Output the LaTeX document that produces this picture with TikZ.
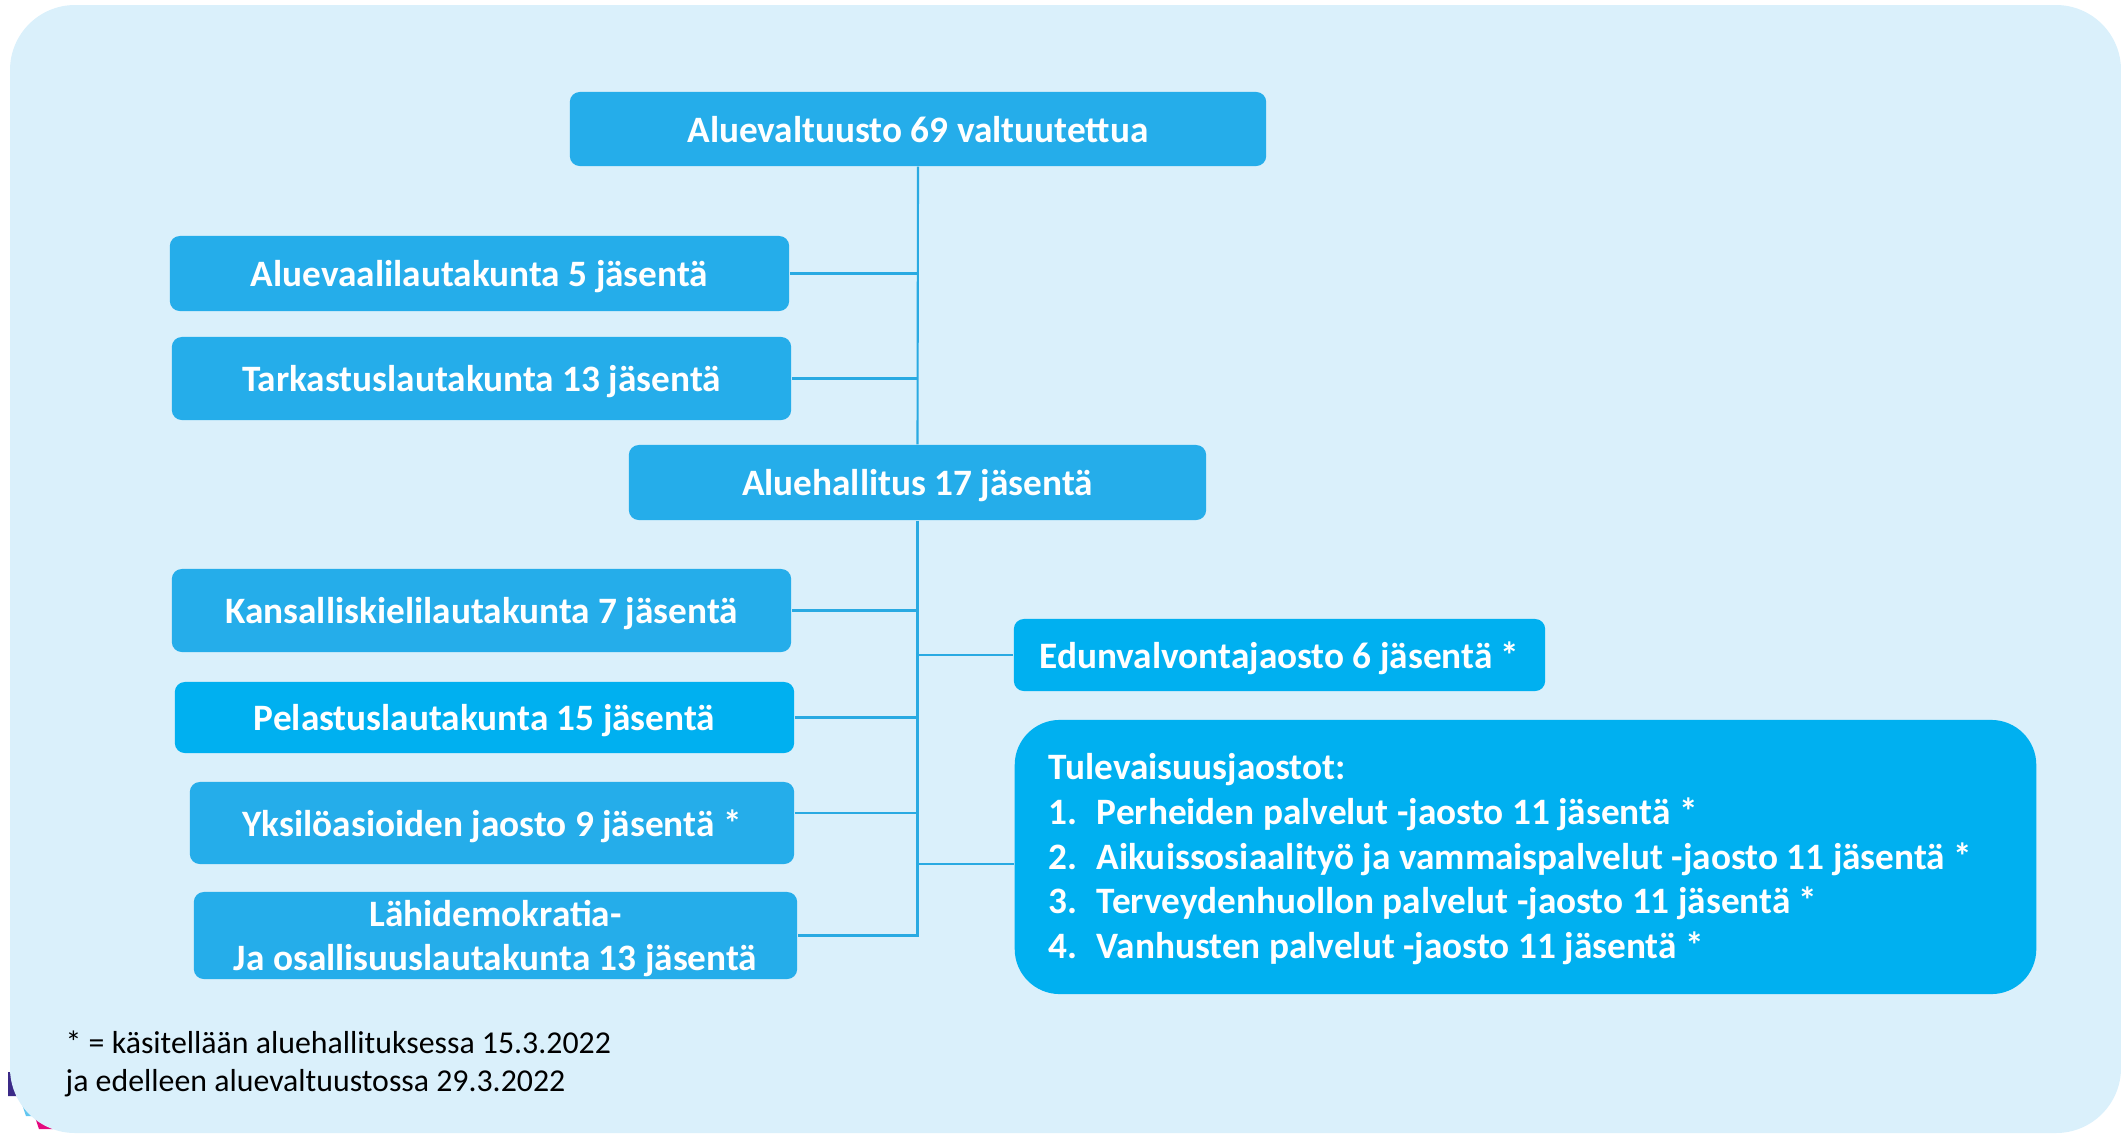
\documentclass[tikz,border=0pt]{standalone}
\usepackage{fontspec}
\setmainfont{Carlito}
\usepackage{tikz}

\definecolor{tausta}{HTML}{DAF0FB}
\definecolor{elinsin}{HTML}{25ADEA}
\definecolor{kirkassin}{HTML}{00B0F0}
\definecolor{viiva}{HTML}{29AAE2}
\definecolor{logovio}{HTML}{3B2A87}
\definecolor{logosin}{HTML}{62C6F0}
\definecolor{logopun}{HTML}{E4097E}

\tikzset{
	elin/.style={fill=elinsin, text=white, rounded corners=0.1cm, inner sep=0pt, align=flush center,
		text depth=0pt, font=\bfseries\fontsize{10.6}{12.7}\selectfont},
	kirkas/.style={elin, fill=kirkassin},
	yhteys/.style={draw=viiva, line width=0.6pt},
}

\begin{document}
\begin{tikzpicture}[x=0.01cm, y=-0.01cm]
	\useasboundingbox (0,0) rectangle (2121,1133);
	\fill[logovio] (8,1072) -- (15,1072) -- (24,1096) -- (8,1096) -- cycle;
	\fill[logosin] (22,1104) -- (30,1104) -- (34,1116) -- (26,1116) -- cycle;
	\fill[logopun] (35,1117) -- (47,1117) -- (53,1129) -- (39,1129) -- cycle;
	\fill[tausta, rounded corners=0.65cm] (10,5) rectangle (2121,1133);
	
	\node[elin, minimum width=6.96cm, minimum height=0.74cm] (valtuusto) at (918,129) {Aluevaltuusto 69 valtuutettua};
	\node[elin, minimum width=6.19cm, minimum height=0.75cm] (aluevaali) at (479.5,273.5) {Aluevaalilautakunta 5 jäsentä};
	\node[elin, minimum width=6.19cm, minimum height=0.83cm] (tarkastus) at (481.5,378.5) {Tarkastuslautakunta 13 jäsentä};
	\node[elin, minimum width=5.77cm, minimum height=0.75cm] (hallitus) at (917.5,482.5) {Aluehallitus 17 jäsentä};
	
	\node[elin, minimum width=6.19cm, minimum height=0.83cm] (kieli) at (481.5,610.5) {Kansalliskielilautakunta 7 jäsentä};
	\node[kirkas, minimum width=6.19cm, minimum height=0.71cm] (pelastus) at (484.5,717.5) {Pelastuslautakunta 15 jäsentä};
	\node[elin, minimum width=6.04cm, minimum height=0.82cm] (yksilo) at (492,823) {Yksilöasioiden jaosto 9 jäsentä *};
	\node[elin, minimum width=6.03cm, minimum height=0.87cm] (lahi) at (495.5,935.5) {Lähidemokratia-\\Ja osallisuuslautakunta 13 jäsentä};
	
	\node[kirkas, minimum width=5.31cm, minimum height=0.72cm] (edun) at (1279.5,655) {Edunvalvontajaosto 6 jäsentä *};
	\node[kirkas, rounded corners=0.45cm, minimum width=10.21cm, minimum height=2.74cm, text width=9.53cm, align=flush left,
		text height=0.26cm, text depth=1.8cm] (tule) at (1525.5,857) {Tulevaisuusjaostot:\\
		\makebox[0.48cm][l]{1.}Perheiden palvelut -jaosto 11 jäsentä *\\
		\makebox[0.48cm][l]{2.}Aikuissosiaalityö ja vammaispalvelut -jaosto 11 jäsentä *\\
		\makebox[0.48cm][l]{3.}Terveydenhuollon palvelut -jaosto 11 jäsentä *\\
		\makebox[0.48cm][l]{4.}Vanhusten palvelut -jaosto 11 jäsentä *};
	
	\draw[yhteys] (valtuusto.south) -- (hallitus.north);
	\draw[yhteys] (aluevaali.east) -- (aluevaali.east -| valtuusto.south);
	\draw[yhteys] (tarkastus.east) -- (tarkastus.east -| valtuusto.south);
	\draw[yhteys] (hallitus.south) -- (hallitus.south |- lahi.east) -- (lahi.east);
	\draw[yhteys] (kieli.east) -- (kieli.east -| hallitus.south);
	\draw[yhteys] (pelastus.east) -- (pelastus.east -| hallitus.south);
	\draw[yhteys] ([yshift=0.1cm]yksilo.east) -- ([yshift=0.1cm]yksilo.east -| hallitus.south);
	\draw[yhteys] (edun.west) -- (edun.west -| hallitus.south);
	\draw[yhteys] ([yshift=-0.07cm]tule.west) -- ([yshift=-0.07cm]tule.west -| hallitus.south);
	
	\node[anchor=base west, align=flush left, inner sep=0pt, font=\fontsize{9.05}{10.8}\selectfont] (huomio) at (65,1091) {* = käsitellään aluehallituksessa 15.3.2022\\ja edelleen aluevaltuustossa 29.3.2022};
\end{tikzpicture}
\end{document}
